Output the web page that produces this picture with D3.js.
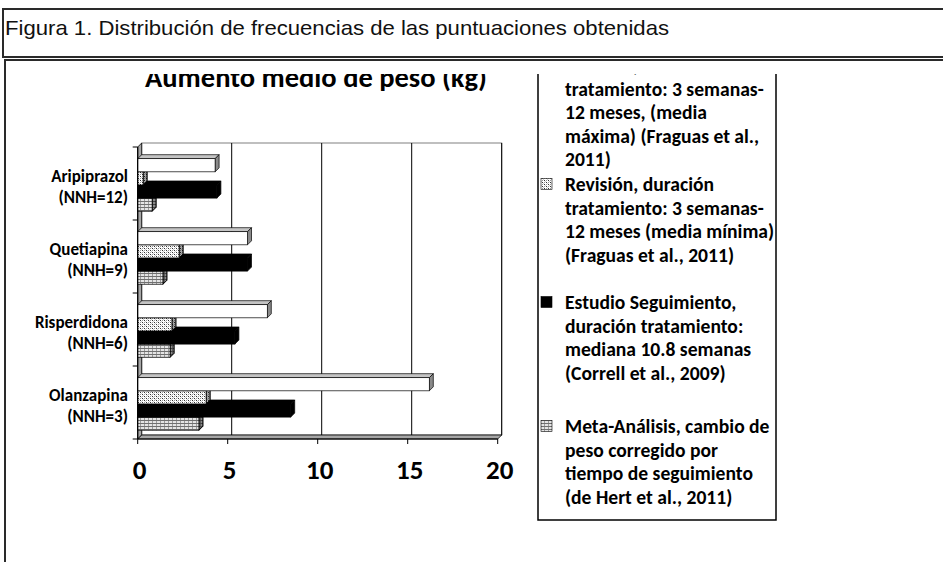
<!DOCTYPE html>
<html>
<head>
<meta charset="utf-8">
<script src="https://cdn.jsdelivr.net/npm/d3@7"></script>
<style>
  body { margin: 0; background: #fff; }
  svg { display: block; }
</style>
</head>
<body>
<script>
// data
const categories = ["Aripiprazol", "Quetiapina", "Risperdidona", "Olanzapina"];
const nnhLabels = ["(NNH=12)", "(NNH=9)", "(NNH=6)", "(NNH=3)"];
const seriesKeys = ["maxima", "minima", "correll", "meta"];
const mediaMaxima = [4.3, 6.1, 7.2, 16.2];
const mediaMinima = [0.3, 2.3, 1.9, 3.8];
const correll = [4.4, 6.1, 5.4, 8.5];
const metaAnalisis = [0.8, 1.4, 1.8, 3.4];
const xTicks = [0, 5, 10, 15, 20];
const legendLines = [
    ["Revisión, duración", "tratamiento: 3 semanas-", "12 meses, (media", "máxima) (Fraguas et al.,", "2011)"],
    ["Revisión, duración", "tratamiento: 3 semanas-", "12 meses (media mínima)", "(Fraguas et al., 2011)"],
    ["Estudio Seguimiento,", "duración tratamiento:", "mediana 10.8 semanas", "(Correll et al., 2009)"],
    ["Meta-Análisis, cambio de", "peso corregido por", "tiempo de seguimiento", "(de Hert et al., 2011)"]
];
const figTitle = "Figura 1. Distribución de frecuencias de las puntuaciones obtenidas";
const chartTitle = "Aumento medio de peso (kg)";

const values = { maxima: mediaMaxima, minima: mediaMinima, correll: correll, meta: metaAnalisis };

const W = 943, H = 562;
const DX = 4, DY = 4;   // 3d depth
const boldFont = "Carlito, Lato, 'Open Sans', sans-serif";

const svg = d3.select("body").append("svg")
    .attr("width", W)
    .attr("height", H);

const defs = svg.append("defs");

// light stipple for "media minima"
const dots = defs.append("pattern").attr("id", "dots")
    .attr("width", 4).attr("height", 4).attr("patternUnits", "userSpaceOnUse");
dots.append("rect").attr("width", 4).attr("height", 4).attr("fill", "#fff");
[[0, 0, "#333"], [2, 2, "#333"], [2, 0, "#999"], [0, 2, "#999"], [1, 1, "#ccc"], [3, 3, "#ccc"]].forEach(d => {
    dots.append("rect").attr("x", d[0]).attr("y", d[1]).attr("width", 1).attr("height", 1).attr("fill", d[2]);
});

// small grid for the meta-analysis
const grid = defs.append("pattern").attr("id", "gridpat")
    .attr("width", 4).attr("height", 3).attr("patternUnits", "userSpaceOnUse");
grid.append("rect").attr("width", 4).attr("height", 3).attr("fill", "#e4e4e4");
grid.append("rect").attr("width", 4).attr("height", 1).attr("fill", "#707070");
grid.append("rect").attr("x", 0).attr("y", 1).attr("width", 1).attr("height", 2).attr("fill", "#9a9a9a");

defs.append("clipPath").attr("id", "chartclip")
    .append("rect").attr("x", 6).attr("y", 74).attr("width", W).attr("height", H);
defs.append("clipPath").attr("id", "legendclip")
    .append("rect").attr("x", 538).attr("y", 0).attr("width", 238).attr("height", 520);

const styles = {
    maxima:  { front: "#fff",          top: "#c4c4c4", side: "#8a8a8a", shade: 0 },
    minima:  { front: "url(#dots)",    top: "url(#dots)", side: "url(#dots)", shade: 0.35 },
    correll: { front: "#000",          top: "#000",    side: "#000",    shade: 0 },
    meta:    { front: "url(#gridpat)", top: "url(#gridpat)", side: "url(#gridpat)", shade: 0.4 }
};

// ---- page frames ----
svg.append("rect")
    .attr("x", 3).attr("y", 9).attr("width", W + 10).attr("height", 48)
    .attr("fill", "none").attr("stroke", "#2a2a2a").attr("stroke-width", 2);

svg.append("text")
    .attr("x", 5).attr("y", 35)
    .attr("font-family", "'Liberation Sans Narrow', 'Arial Narrow', 'Liberation Sans', sans-serif")
    .attr("font-size", 21)
    .attr("textLength", 664)
    .attr("lengthAdjust", "spacingAndGlyphs")
    .attr("fill", "#111")
    .text(figTitle);

svg.append("path")
    .attr("d", `M5,${H} L5,60 L${W},60`)
    .attr("fill", "none").attr("stroke", "#2a2a2a").attr("stroke-width", 2);

// ---- chart ----
const g = svg.append("g").attr("clip-path", "url(#chartclip)");

const x = d3.scaleLinear().domain([0, 20]).range([137.7, 497.7]);
const y = d3.scaleBand().domain(categories).range([147, 439]);
const ys = d3.scaleBand().domain(seriesKeys)
    .range([y.bandwidth() * 0.16, y.bandwidth() * 0.88]);

const xl = x.range()[0], xr = x.range()[1];
const yt = y.range()[0], yb = y.range()[1];

// back wall
g.append("rect")
    .attr("x", xl + DX).attr("y", yt - DY)
    .attr("width", xr - xl).attr("height", yb - yt)
    .attr("fill", "#fff").attr("stroke", "#808080").attr("stroke-width", 1);

// gridlines on the back wall
g.selectAll(".grid").data(xTicks.slice(1)).enter().append("line")
    .attr("x1", d => x(d) + DX).attr("x2", d => x(d) + DX)
    .attr("y1", yt - DY).attr("y2", yb - DY)
    .attr("stroke", "#000").attr("stroke-width", 1);

// left wall
g.append("path")
    .attr("d", `M${xl},${yt} L${xl + DX},${yt - DY} L${xl + DX},${yb - DY} L${xl},${yb} Z`)
    .attr("fill", "#a6a6a6").attr("stroke", "#000").attr("stroke-width", 0.8);

// floor
g.append("path")
    .attr("d", `M${xl},${yb} L${xl + DX},${yb - DY} L${xr + DX},${yb - DY} L${xr},${yb} Z`)
    .attr("fill", "#a6a6a6").attr("stroke", "#000").attr("stroke-width", 0.8);

// bars, drawn bottom-up so upper bars cover the lower top faces
function face(sel, d, fill, shade) {
    sel.append("path").attr("d", d).attr("fill", fill)
        .attr("stroke", "#000").attr("stroke-width", 0.7);
    if (shade > 0) {
        sel.append("path").attr("d", d).attr("fill", "#000").attr("fill-opacity", shade)
            .attr("stroke", "#000").attr("stroke-width", 0.7);
    }
}

const bars = g.append("g");
categories.slice().reverse().forEach(cat => {
    const ci = categories.indexOf(cat);
    seriesKeys.slice().reverse().forEach(key => {
        const v = values[key][ci];
        const st = styles[key];
        const x0 = x(0), x1 = x(v);
        const y0 = y(cat) + ys(key), y1 = y0 + ys.bandwidth();
        const b = bars.append("g");
        face(b, `M${x0},${y0} L${x0 + DX},${y0 - DY} L${x1 + DX},${y0 - DY} L${x1},${y0} Z`, st.top, st.shade * 0.5);
        face(b, `M${x1},${y0} L${x1 + DX},${y0 - DY} L${x1 + DX},${y1 - DY} L${x1},${y1} Z`, st.side, st.shade);
        b.append("rect")
            .attr("x", x0).attr("y", y0)
            .attr("width", x1 - x0).attr("height", y1 - y0)
            .attr("fill", st.front).attr("stroke", "#000").attr("stroke-width", 0.7);
    });
});

// axes
g.append("line").attr("x1", xl).attr("x2", xl).attr("y1", yt).attr("y2", yb)
    .attr("stroke", "#000").attr("stroke-width", 1.2);
g.append("line").attr("x1", xl).attr("x2", xr).attr("y1", yb).attr("y2", yb)
    .attr("stroke", "#000").attr("stroke-width", 1.2);

// category boundary ticks
const bounds = categories.map(c => y(c)).concat([yb]);
g.selectAll(".ytick").data(bounds).enter().append("line")
    .attr("x1", xl - 5).attr("x2", xl)
    .attr("y1", d => d).attr("y2", d => d)
    .attr("stroke", "#000").attr("stroke-width", 1);

g.selectAll(".xtick").data(xTicks).enter().append("line")
    .attr("x1", d => x(d)).attr("x2", d => x(d))
    .attr("y1", yb).attr("y2", yb + 5)
    .attr("stroke", "#000").attr("stroke-width", 1);

g.selectAll(".xlabel").data(xTicks).enter().append("text")
    .attr("x", d => x(d) + 2).attr("y", yb + 40)
    .attr("text-anchor", "middle")
    .attr("font-family", boldFont).attr("font-weight", "bold")
    .attr("font-size", 27).attr("fill", "#000")
    .text(d => d);

// category labels
categories.forEach((cat, i) => {
    const cy = y(cat) + y.bandwidth() / 2;
    const t = g.append("text")
        .attr("text-anchor", "end")
        .attr("font-family", boldFont).attr("font-weight", "bold")
        .attr("font-size", 17).attr("fill", "#000");
    t.append("tspan").attr("x", 128).attr("y", cy - 2).text(cat);
    t.append("tspan").attr("x", 128).attr("y", cy + 19).text(nnhLabels[i]);
});

// chart title (its top is cut off by the frame)
g.append("text")
    .attr("x", 316).attr("y", 87)
    .attr("text-anchor", "middle")
    .attr("font-family", boldFont).attr("font-weight", "bold")
    .attr("font-size", 28.5).attr("fill", "#000")
    .text(chartTitle);

// ---- legend ----
const lg = g.append("g");
lg.append("rect")
    .attr("x", 538).attr("y", 30).attr("width", 238).attr("height", 490)
    .attr("fill", "#fff").attr("stroke", "#000").attr("stroke-width", 1.5);

const lgText = lg.append("g").attr("clip-path", "url(#legendclip)");
const entryTops = [65, 184, 302, 426];
const lineH = 23.6;
seriesKeys.forEach((key, i) => {
    const st = styles[key];
    const ty = entryTops[i];
    lgText.append("rect")
        .attr("x", 541).attr("y", ty - 5.5).attr("width", 11).attr("height", 11)
        .attr("fill", st.front).attr("stroke", "#000").attr("stroke-width", 0.6);
    const t = lgText.append("text")
        .attr("font-family", boldFont).attr("font-weight", "bold")
        .attr("font-size", 19.6).attr("fill", "#000");
    legendLines[i].forEach((line, j) => {
        t.append("tspan").attr("x", 565).attr("y", ty + 7 + j * lineH).text(line);
    });
});
</script>
</body>
</html>
